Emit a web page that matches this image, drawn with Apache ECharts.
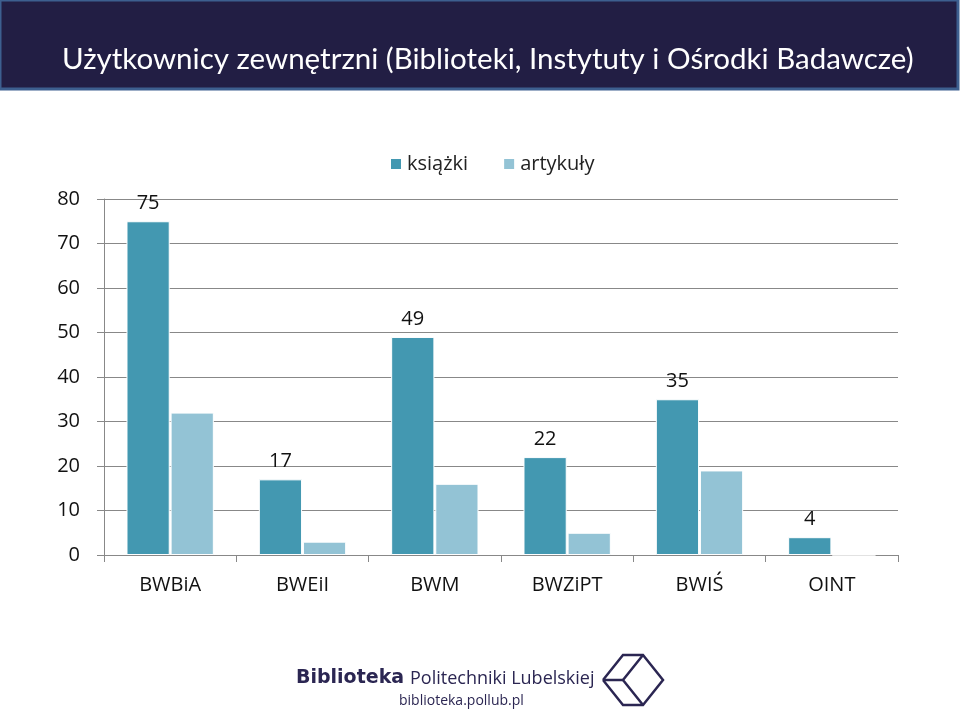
<!DOCTYPE html>
<html>
<head>
<meta charset="utf-8">
<script src="https://cdn.jsdelivr.net/npm/echarts@6/dist/echarts.min.js"></script>
<style>
  html, body { margin: 0; padding: 0; background: #fff; }
  #main { width: 960px; height: 720px; }
</style>
</head>
<body>
<div id="main"></div>
<script>
var categories = ["BWBiA", "BWEiI", "BWM", "BWZiPT", "BWIŚ", "OINT"];
var ksiazki = [75, 17, 49, 22, 35, 4];
var artykuly = [32, 3, 16, 5, 19, 0];
var seriesNames = ["książki", "artykuły"];

var chart = echarts.init(document.getElementById("main"));

var logoStroke = { stroke: "#2b2652", lineWidth: 2.5, fill: null };

var option = {
  backgroundColor: "#ffffff",
  animation: false,
  textStyle: { fontFamily: "Open Sans" },
  graphic: [
    // title bar
    {
      type: "rect",
      shape: { x: 0, y: 0, width: 958, height: 89 },
      style: { fill: "#221e44", stroke: "#3d5f8f", lineWidth: 3 }
    },
    {
      type: "text",
      left: 62,
      top: 44,
      style: {
        text: "Użytkownicy zewnętrzni (Biblioteki, Instytuty i Ośrodki Badawcze)",
        fill: "#ffffff",
        font: "29.5px Lato"
      }
    },
    // footer logo
    {
      type: "text",
      left: 296,
      top: 669,
      style: { text: "Biblioteka", fill: "#2b2652", font: "bold 19px 'DejaVu Sans'" }
    },
    {
      type: "text",
      left: 410,
      top: 670,
      style: { text: "Politechniki Lubelskiej", fill: "#2b2652", font: "18px 'Open Sans'" }
    },
    {
      type: "text",
      left: 399,
      top: 694,
      style: { text: "biblioteka.pollub.pl", fill: "#2b2652", font: "14px 'Open Sans'" }
    },
    {
      type: "polyline",
      shape: { points: [[603, 680], [623, 655], [643, 655], [663, 680], [643, 705], [623, 705], [603, 680]] },
      style: logoStroke
    },
    {
      type: "polyline",
      shape: { points: [[643, 655], [623, 680], [643, 705]] },
      style: logoStroke
    },
    {
      type: "line",
      shape: { x1: 603, y1: 680, x2: 623, y2: 680 },
      style: logoStroke
    }
  ],
  legend: {
    data: seriesNames,
    top: 149,
    left: 384,
    itemWidth: 12,
    itemHeight: 12,
    itemGap: 34,
    icon: "rect",
    textStyle: { fontSize: 20, color: "#222", fontFamily: "Open Sans" }
  },
  grid: { left: 104, right: 62, top: 199, bottom: 165 },
  xAxis: {
    type: "category",
    data: categories,
    axisLine: { lineStyle: { color: "#888", width: 1 } },
    axisTick: { show: true, length: 7, alignWithLabel: false, lineStyle: { color: "#888" } },
    axisLabel: { fontSize: 20, color: "#111", margin: 20, fontFamily: "Open Sans" }
  },
  yAxis: {
    type: "value",
    min: 0,
    max: 80,
    interval: 10,
    axisLine: { show: true, lineStyle: { color: "#888" } },
    axisTick: { show: true, length: 7, lineStyle: { color: "#888" } },
    axisLabel: { fontSize: 20, color: "#111", margin: 24, fontFamily: "Open Sans" },
    splitLine: { lineStyle: { color: "#888", width: 1 } }
  },
  series: [
    {
      name: seriesNames[0],
      type: "bar",
      data: ksiazki,
      barGap: "2%",
      barCategoryGap: "34%",
      itemStyle: { color: "#4398b1", borderColor: "#ffffff", borderWidth: 1 },
      label: { show: true, position: "top", distance: 8, fontSize: 20, color: "#111", fontFamily: "Open Sans" }
    },
    {
      name: seriesNames[1],
      type: "bar",
      data: artykuly,
      itemStyle: { color: "#93c3d5", borderColor: "#ffffff", borderWidth: 1 }
    }
  ]
};

chart.setOption(option);
</script>
</body>
</html>
